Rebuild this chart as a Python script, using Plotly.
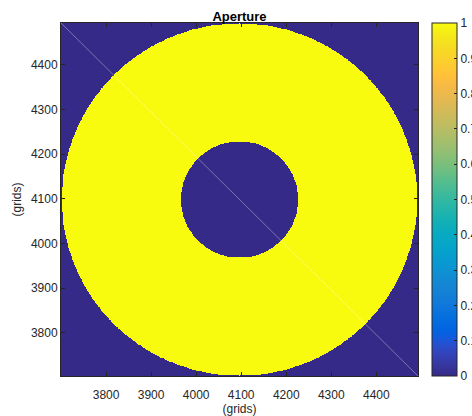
import numpy as np
import plotly.graph_objects as go

# ---- data ----
grid_x = np.arange(3700, 4494)          # grid column indices shown
grid_y = np.arange(3703, 4495)          # grid row indices shown
center_x = 4096.0                        # aperture centre (grids)
center_y = 4099.0
outer_radius = 394.0                     # outer aperture radius (grids)
inner_radius = 130.0                     # central obscuration radius (grids)

x_ticks = [3800, 3900, 4000, 4100, 4200, 4300, 4400]
y_ticks = [3800, 3900, 4000, 4100, 4200, 4300, 4400]
cbar_ticks = [0, 0.1, 0.2, 0.3, 0.4, 0.5, 0.6, 0.7, 0.8, 0.9, 1]
x_range = [3700, 4492.5]
y_range = [3703.5, 4494]

# aperture transmission map (1 inside annulus, 0 outside)
XX, YY = np.meshgrid(grid_x, grid_y)
rr = np.hypot(XX - center_x, YY - center_y)
aperture = ((rr <= outer_radius) & (rr >= inner_radius)).astype(np.uint8)

# MATLAB parula colormap (64 entries)
parula = [
    [0.2081, 0.1663, 0.5292], [0.2116, 0.1898, 0.5777], [0.2123, 0.2138, 0.6270], [0.2081, 0.2386, 0.6771],
    [0.1959, 0.2645, 0.7279], [0.1707, 0.2919, 0.7792], [0.1253, 0.3242, 0.8303], [0.0591, 0.3598, 0.8683],
    [0.0117, 0.3875, 0.8820], [0.0060, 0.4086, 0.8828], [0.0165, 0.4266, 0.8786], [0.0329, 0.4430, 0.8720],
    [0.0498, 0.4586, 0.8641], [0.0629, 0.4737, 0.8554], [0.0723, 0.4887, 0.8467], [0.0779, 0.5040, 0.8384],
    [0.0793, 0.5200, 0.8312], [0.0749, 0.5375, 0.8263], [0.0641, 0.5570, 0.8240], [0.0488, 0.5772, 0.8228],
    [0.0343, 0.5966, 0.8199], [0.0265, 0.6137, 0.8135], [0.0239, 0.6287, 0.8038], [0.0231, 0.6418, 0.7913],
    [0.0228, 0.6535, 0.7768], [0.0267, 0.6642, 0.7607], [0.0384, 0.6743, 0.7436], [0.0590, 0.6838, 0.7254],
    [0.0843, 0.6928, 0.7062], [0.1133, 0.7015, 0.6859], [0.1453, 0.7098, 0.6646], [0.1801, 0.7177, 0.6424],
    [0.2178, 0.7250, 0.6193], [0.2586, 0.7317, 0.5954], [0.3022, 0.7376, 0.5712], [0.3482, 0.7424, 0.5473],
    [0.3953, 0.7459, 0.5244], [0.4420, 0.7481, 0.5033], [0.4871, 0.7491, 0.4840], [0.5300, 0.7491, 0.4661],
    [0.5709, 0.7485, 0.4494], [0.6099, 0.7473, 0.4337], [0.6473, 0.7456, 0.4188], [0.6834, 0.7435, 0.4044],
    [0.7184, 0.7411, 0.3905], [0.7525, 0.7384, 0.3768], [0.7858, 0.7356, 0.3633], [0.8185, 0.7327, 0.3498],
    [0.8507, 0.7299, 0.3360], [0.8824, 0.7274, 0.3217], [0.9139, 0.7258, 0.3063], [0.9450, 0.7261, 0.2886],
    [0.9739, 0.7314, 0.2666], [0.9938, 0.7455, 0.2403], [0.9990, 0.7653, 0.2164], [0.9955, 0.7861, 0.1967],
    [0.9880, 0.8066, 0.1794], [0.9789, 0.8271, 0.1633], [0.9697, 0.8481, 0.1475], [0.9626, 0.8705, 0.1309],
    [0.9589, 0.8949, 0.1132], [0.9598, 0.9218, 0.0948], [0.9661, 0.9514, 0.0755], [0.9763, 0.9831, 0.0538],
]
n = len(parula)
colorscale = [[i / (n - 1), "rgb(%d,%d,%d)" % tuple(int(round(c * 255)) for c in col)]
              for i, col in enumerate(parula)]

AX = "#262626"
FONT = "Liberation Sans, Arial, Helvetica, sans-serif"

fig = go.Figure()
fig.add_trace(go.Heatmap(
    x=grid_x, y=grid_y, z=aperture,
    zmin=0, zmax=1, colorscale=colorscale, zsmooth=False,
    hoverinfo="skip",
    colorbar=dict(
        thickness=25, thicknessmode="pixels",
        len=1, lenmode="fraction", y=0.5, yanchor="middle", ypad=0,
        x=(432 - 61) / 357, xanchor="left", xpad=0,
        outlinewidth=1, outlinecolor=AX,
        ticks="inside", ticklen=3, tickcolor=AX,
        tickvals=cbar_ticks,
        tickfont=dict(size=12, color=AX, family=FONT),
    ),
))

# rendering seam along the anti-diagonal (as in the reference)
fig.add_shape(type="line", xref="x", yref="y",
              x0=x_range[0], y0=y_range[1], x1=x_range[1], y1=y_range[0],
              line=dict(color="rgba(255,255,255,0.35)", width=1))

axis_common = dict(
    showgrid=False, zeroline=False, showline=True, linecolor=AX, linewidth=1,
    mirror="ticks", ticks="inside", ticklen=4, tickcolor=AX, tickwidth=1,
    tickfont=dict(size=12, color=AX, family=FONT), automargin=False,
)
fig.update_xaxes(range=x_range, tickvals=x_ticks, ticklabelstandoff=8,
                 title=dict(text="(grids)", font=dict(size=12, color=AX, family=FONT), standoff=1),
                 **axis_common)
fig.update_yaxes(range=y_range, tickvals=y_ticks,
                 title=dict(text="(grids)", font=dict(size=12, color=AX, family=FONT), standoff=6),
                 **axis_common)

fig.update_layout(
    width=472, height=416,
    margin=dict(l=61, r=54, t=23, b=40, pad=0, autoexpand=False),
    paper_bgcolor="white", plot_bgcolor="white",
    font=dict(family=FONT, size=12, color=AX),
    title=dict(text="<b>Aperture</b>", x=(61 + 418) / 2 / 472, xanchor="center",
               xref="container", y=1 - 16 / 416, yref="container", yanchor="middle",
               font=dict(size=13, color="black", family=FONT), automargin=False),
    showlegend=False,
)

fig.write_html("out.html", config={"displayModeBar": False},
               post_script="document.body.style.margin='0';document.body.style.overflow='hidden';")
